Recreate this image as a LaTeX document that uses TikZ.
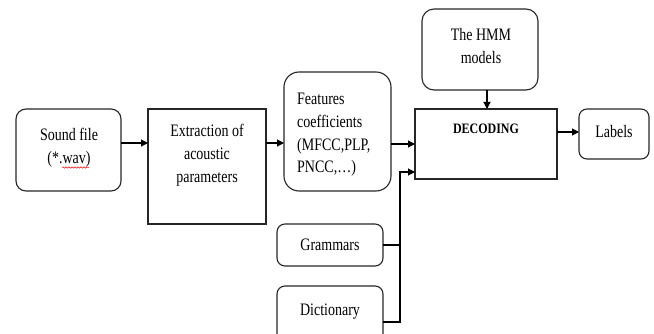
\documentclass[tikz,border=0pt]{standalone}
\usepackage{graphicx}
\usepackage{fontspec}
\setmainfont{Liberation Serif}
\usetikzlibrary{arrows.meta,decorations.pathmorphing}
\newcommand{\vtxt}[2]{\scalebox{1}[1.25]{\begin{tabular}{@{}#1@{}}#2\end{tabular}}}
\begin{document}
\begin{tikzpicture}[x=1pt,y=-1pt,
  box/.style={draw=black!85, line width=1.1pt, inner sep=0pt, outer sep=0pt},
  rbox/.style={box, rounded corners=10pt},
  txt/.style={inner sep=0pt, align=center, font=\fontsize{14}{18.3}\selectfont},
  arr/.style={line width=1.1pt, -{Triangle[length=7pt,width=7pt]}},
  ln/.style={line width=1.1pt}]
\useasboundingbox (0,0) rectangle (654,334);
\clip (0,0) rectangle (654,334);
% boxes
\node[rbox, minimum width=105pt, minimum height=82pt] (sound) at (68.5,150) {};
\node[box, minimum width=118pt, minimum height=115pt] (ext) at (207,166.5) {};
\node[rbox, rounded corners=15pt, minimum width=107pt, minimum height=119pt] (feat) at (337.5,131.5) {};
\node[rbox, rounded corners=12pt, minimum width=116pt, minimum height=81pt] (hmm) at (480,49.5) {};
\node[box, minimum width=142pt, minimum height=70pt] (dec) at (486,144) {};
\node[rbox, rounded corners=8pt, minimum width=70pt, minimum height=50pt] (lab) at (614,134) {};
\node[rbox, rounded corners=8pt, minimum width=106pt, minimum height=42pt] (gram) at (330,245) {};
\node[rbox, rounded corners=8pt, minimum width=106pt, minimum height=60pt] (dict) at (330,316) {};
% texts
\node[txt] (soundt) at (69,147) {\vtxt{c}{Sound file\\(*.wav)}};
\draw[red, line width=0.5pt, decorate, decoration={snake, segment length=3pt, amplitude=0.7pt}] (62,167.5) -- (89,167.5);
\node[txt] (extt) at (207,155) {\vtxt{c}{Extraction of\\acoustic\\parameters}};
\node[txt, anchor=west] (featt) at (297,134) {\vtxt{l}{Features\\coefficients\\(MFCC,PLP,\\PNCC,\ldots)}};
\node[txt] (hmmt) at (481,47) {\vtxt{c}{The HMM\\models}};
\node[txt, font=\fontsize{12}{14}\selectfont\bfseries] (dect) at (486,128.5) {\scalebox{1}[1.2]{DECODING}};
\node[txt] (labt) at (614,133) {\vtxt{c}{Labels}};
\node[txt] (gramt) at (330,246) {\vtxt{c}{Grammars}};
\node[txt] (dictt) at (330,311) {\vtxt{c}{Dictionary}};
% connectors
\draw[arr] (sound.east |- 0,143) -- (ext.west |- 0,143);
\draw[arr] (ext.east |- 0,143) -- (feat.west |- 0,143);
\draw[arr] (feat.east |- 0,144) -- (dec.west |- 0,144);
\draw[arr] (hmm.south -| 487,0) -- (dec.north -| 487,0);
\draw[arr] (dec.east |- 0,132) -- (lab.west |- 0,132);
\coordinate (jg) at (400,245);
\coordinate (jd) at (400,322);
\coordinate (jt) at (400,172);
\draw[ln] (gram.east) -- (jg);
\draw[arr] (dict.east |- jd) -- (jd) -- (jt) -- (dec.west |- jt);
\end{tikzpicture}
\end{document}
